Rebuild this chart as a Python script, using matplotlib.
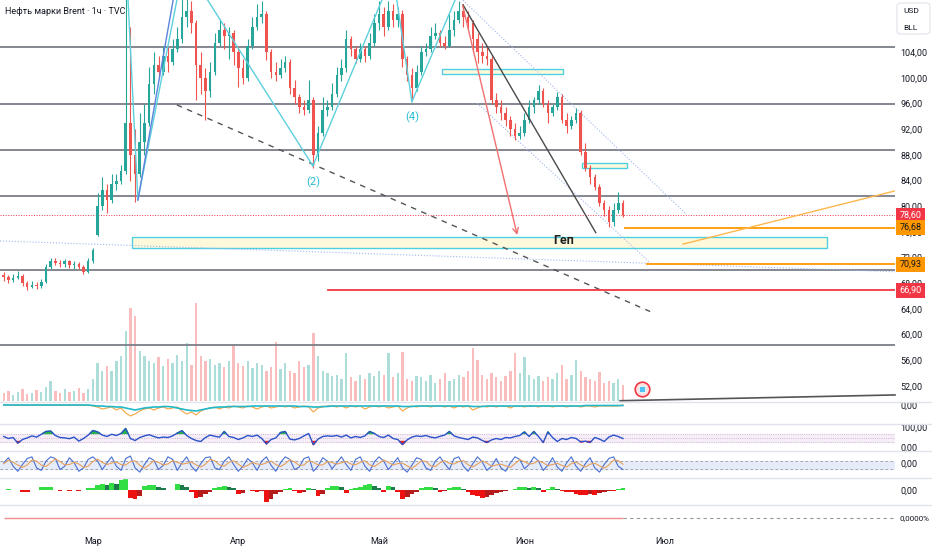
import numpy as np
import matplotlib.pyplot as plt
from matplotlib.lines import Line2D
from matplotlib.patches import Rectangle, FancyBboxPatch
import matplotlib.transforms as mtransforms

plt.rcParams['font.family'] = ['Roboto', 'DejaVu Sans']

W, H = 932, 550

# one candle per calendar day, day number counted from 1 Jan (40 = 9 Feb ... 172 = 21 Jun)
days = np.arange(40, 173)

opens = [69.3, 69.0, 68.5, 68.8, 69.2, 68.0, 67.5, 67.8, 67.6, 68.2,
         70.5, 71.5, 71.2, 71.0, 71.4, 70.8, 71.0, 70.6, 69.8, 71.5,
         75.6, 80.0, 82.5, 81.0, 83.5, 84.0, 85.5, 93.0, 88.0, 85.0,
         90.0, 93.0, 99.0, 102.0, 101.0, 103.5, 102.5, 104.5, 106.0, 109.5,
         110.5, 108.5, 102.0, 100.0, 98.0, 101.0, 105.5, 107.5, 106.5, 107.0,
         104.0, 101.5, 100.0, 105.0, 108.0, 109.5, 110.0, 104.0, 101.0, 100.5,
         101.5, 102.5, 98.5, 97.0, 95.5, 95.0, 96.5, 88.0, 91.5, 95.0,
         95.5, 97.5, 100.5, 101.5, 106.0, 104.5, 103.0, 104.5, 103.5, 105.5,
         108.5, 110.0, 108.0, 110.5, 109.0, 110.0, 103.0, 100.5, 98.5, 101.0,
         104.0, 104.5, 106.5, 107.0, 105.5, 105.0, 107.5, 109.0, 110.5, 109.5,
         108.5, 106.0, 104.0, 103.5, 103.0, 96.5, 95.5, 94.5, 93.5, 92.0,
         91.0, 91.5, 93.5, 95.5, 96.5, 98.0, 96.0, 94.5, 95.5, 97.0,
         93.5, 92.5, 93.5, 94.5, 88.5, 86.0, 84.5, 83.0, 80.5, 79.5,
         77.5, 79.5, 80.5]
highs = [69.8, 69.3, 69.4, 69.9, 69.4, 68.3, 68.4, 68.2, 68.6, 71.0,
         72.0, 71.9, 71.6, 71.8, 71.6, 71.5, 71.3, 70.9, 72.0, 73.5,
         82.0, 84.5, 83.5, 85.0, 85.0, 86.5, 113.0, 108.0, 92.0, 94.5,
         96.0, 101.7, 104.0, 103.5, 105.0, 104.8, 106.0, 108.0, 113.0, 113.0,
         112.0, 109.0, 104.0, 101.5, 102.5, 107.0, 109.0, 108.5, 108.0, 107.5,
         105.0, 103.0, 106.0, 109.5, 111.5, 112.0, 110.5, 104.5, 102.5, 103.0,
         103.5, 103.0, 99.7, 97.5, 96.5, 99.7, 97.0, 92.5, 97.0, 96.5,
         99.2, 101.7, 103.0, 107.5, 106.5, 105.0, 105.5, 105.0, 107.0, 110.0,
         112.0, 111.0, 112.0, 111.5, 111.0, 110.6, 103.5, 101.5, 102.0, 105.0,
         105.5, 108.0, 108.5, 107.5, 106.5, 110.0, 110.5, 112.0, 111.5, 110.5,
         109.0, 107.0, 105.5, 105.0, 103.5, 97.6, 96.5, 95.5, 94.0, 93.0,
         92.5, 94.5, 96.5, 97.0, 98.9, 98.5, 96.5, 96.0, 97.8, 97.5,
         94.5, 94.0, 95.3, 95.0, 89.9, 86.5, 85.0, 83.5, 81.0, 80.0,
         80.5, 82.2, 81.0]
lows = [68.4, 68.1, 68.2, 68.6, 67.6, 67.0, 67.2, 67.1, 67.3, 68.0,
        70.2, 70.8, 70.5, 70.6, 70.4, 70.3, 70.2, 69.4, 69.6, 71.2,
        75.4, 79.5, 79.0, 80.5, 82.5, 83.5, 85.0, 84.0, 80.7, 84.5,
        88.0, 92.5, 97.5, 100.2, 100.5, 101.0, 102.0, 104.0, 105.5, 108.0,
        107.0, 96.6, 97.5, 93.5, 97.0, 100.5, 105.0, 104.5, 103.0, 102.0,
        98.6, 99.0, 99.5, 104.5, 107.5, 108.5, 102.8, 100.0, 99.5, 100.0,
        101.0, 97.5, 96.0, 94.5, 94.2, 94.5, 86.0, 87.0, 91.0, 94.0,
        95.0, 97.0, 99.5, 101.0, 103.5, 102.3, 102.5, 102.5, 103.0, 105.0,
        107.5, 106.5, 107.5, 108.0, 108.0, 101.7, 99.5, 96.6, 98.0, 100.5,
        103.5, 104.0, 106.0, 104.8, 104.5, 104.8, 106.5, 108.5, 108.0, 107.5,
        104.0, 102.3, 102.3, 102.0, 96.0, 94.5, 93.5, 92.5, 91.0, 90.3,
        90.5, 91.0, 93.0, 94.5, 96.0, 95.5, 93.0, 94.0, 95.0, 93.0,
        91.4, 92.0, 93.0, 88.0, 85.5, 83.5, 82.5, 80.0, 78.5, 76.8,
        77.0, 79.0, 78.4]
closes = [69.0, 68.5, 68.8, 69.2, 68.0, 67.5, 67.8, 67.6, 68.2, 70.5,
          71.5, 71.2, 71.0, 71.4, 70.8, 71.0, 70.6, 69.8, 71.5, 73.2,
          80.0, 82.5, 81.0, 83.5, 84.0, 85.5, 93.0, 88.0, 85.0, 90.0,
          93.0, 99.0, 102.0, 101.0, 103.5, 102.5, 104.5, 106.0, 109.5, 110.5,
          108.5, 102.0, 100.0, 98.0, 101.0, 105.5, 107.5, 106.5, 107.0, 104.0,
          101.5, 100.0, 105.0, 108.0, 109.5, 110.0, 104.0, 101.0, 100.5, 101.5,
          102.5, 98.5, 97.0, 95.5, 95.0, 96.5, 88.0, 91.5, 95.0, 95.5,
          97.5, 100.5, 101.5, 106.0, 104.5, 103.0, 104.5, 103.5, 105.5, 108.5,
          110.0, 108.0, 110.5, 109.0, 110.0, 103.0, 100.5, 98.5, 101.0, 104.0,
          104.5, 106.5, 107.0, 105.5, 105.0, 107.5, 109.0, 110.5, 109.5, 108.5,
          106.0, 104.0, 103.5, 103.0, 96.5, 95.5, 94.5, 93.5, 92.0, 91.0,
          91.5, 93.5, 95.5, 96.5, 98.0, 96.0, 94.5, 95.5, 97.0, 93.5,
          92.5, 93.5, 94.5, 88.5, 86.0, 84.5, 83.0, 80.5, 79.5, 77.5,
          79.5, 80.5, 78.6]
volumes = [8, 10, 6, 9, 12, 7, 8, 11, 9, 14,
           20, 10, 8, 12, 9, 10, 13, 8, 12, 22,
           38, 30, 35, 30, 40, 45, 70, 93, 85, 50,
           45, 40, 38, 44, 35, 42, 38, 46, 40, 58,
           36, 98, 45, 40, 42, 36, 38, 34, 40, 56,
           38, 35, 40, 33, 38, 36, 30, 34, 59, 32,
           38, 30, 28, 40, 34, 36, 68, 45, 30, 28,
           25, 26, 22, 48, 24, 20, 26, 22, 28, 25,
           30, 26, 48, 24, 28, 49, 22, 20, 25, 24,
           20, 26, 18, 22, 28, 20, 22, 26, 24, 30,
           53, 41, 26, 22, 28, 24, 20, 25, 30, 48,
           28, 44, 26, 22, 25, 20, 24, 22, 28, 36,
           22, 26, 41, 30, 24, 22, 20, 29, 18, 20,
           18, 22, 16]

# panel 2: two flow lines
flow_cyan = [0, 0, 0, 0, 0, 0, 0, 0, 0, 0,
             0, 0, 0, 0, 0, 0, 0, 0, 0, -0.5,
             -1, -1, -1.5, -1.5, -2, -2, -3, -4, -5, -4,
             -3, -2.5, -2, -2, -1.5, -1.5, -2, -3, -4, -5,
             -5.5, -6, -5, -4, -3, -2.5, -2, -2, -1.5, -1.5,
             -1.5, -1.5, -1.5, -1, -1, -1, -1, -1, -1, -1,
             -1, -1, -1, -1.5, -1.5, -1.5, -2, -2, -1.5, -1.5,
             -1, -1, -1, -1, -1, -1, -1, -1, -1, -1,
             -1, -1, -1, -1, -1, -1.5, -1.5, -1.5, -1, -1,
             -1, -1, -1, -1, -1, -1, -1, -1, -1, -1,
             -1.5, -1.5, -1.5, -1, -1, -1, -1, -1, -1, -1,
             -1, -1, -1, -1, -1, -1, -1, -1, -1, -1,
             -1, -1, -1, -1, -0.5, -0.5, -0.5, -0.5, -0.5, -0.5,
             -0.5, -0.5, -0.5]
flow_orange = [0, 0, 0, 0, 0, -0.5, 0, 0, 0, 0,
               0, 0, 0, 0, 0, 0, 0, -0.5, 0, -1,
               -2, -4, -3, -2, -5, -3, -8, -11, -9, -6,
               -4, -3, -5, -3, -2, -4, -3, -2, -6, -9,
               -7, -10, -6, -4, -3, -2, -4, -2, -3, -1,
               -2, -3, -1, -2, -4, -2, -1, -3, -2, -1,
               -2, -1, -3, -2, -1, -2, -7, -3, -2, -1,
               -1, -2, -1, -3, -1, -2, -1, -4, -2, -1,
               -2, -1, -3, -2, -1, -6, -3, -1, -2, -1,
               -1, -2, -1, -1, -2, -1, -3, -1, -2, -1,
               -5, -3, -1, -2, -1, -2, -1, -1, -3, -1,
               -1, -2, -1, -1, -2, -1, -1, -2, -1, -1,
               -2, -1, -1, -2, -1, -1, -2, -1, -1, -1,
               -1, -1, 0]

rsi = [55, 45, 50, 22, 40, 48, 58, 52, 66, 80,
       82, 60, 50, 48, 44, 52, 32, 45, 62, 85,
       78, 62, 55, 66, 60, 70, 95, 45, 35, 50,
       58, 64, 55, 48, 52, 50, 58, 72, 84, 60,
       45, 35, 30, 50, 62, 56, 52, 80, 55, 50,
       40, 48, 60, 55, 62, 45, 18, 40, 48, 75,
       80, 42, 38, 45, 58, 70, 14, 42, 55, 58,
       56, 60, 52, 62, 48, 55, 50, 58, 80, 70,
       55, 50, 62, 45, 40, 15, 38, 52, 58, 55,
       60, 52, 48, 56, 62, 80, 58, 50, 45, 40,
       52, 48, 35, 25, 38, 45, 40, 50, 48, 55,
       60, 78, 55, 80, 55, 25, 78, 50, 30, 45,
       40, 50, 45, 28, 32, 25, 50, 42, 30, 52,
       62, 55, 45]

stoch_k = [60, 90, 40, 10, 50, 85, 95, 30, 15, 70,
           95, 85, 20, 40, 90, 60, 10, 30, 80, 95,
           70, 20, 60, 95, 40, 15, 85, 100, 30, 5,
           50, 90, 75, 20, 45, 95, 80, 15, 60, 95,
           40, 10, 55, 90, 95, 30, 20, 70, 95, 50,
           10, 40, 85, 60, 15, 70, 95, 45, 10, 60,
           95, 80, 20, 35, 85, 95, 10, 40, 90, 70,
           25, 60, 95, 50, 15, 80, 95, 40, 10, 65,
           95, 70, 20, 55, 90, 30, 5, 45, 90, 80,
           30, 15, 70, 95, 55, 20, 85, 95, 40, 10,
           55, 95, 65, 15, 40, 85, 30, 10, 60, 95,
           80, 25, 50, 95, 70, 15, 45, 90, 35, 10,
           60, 95, 40, 10, 55, 90, 30, 5, 50, 85,
           95, 40, 20]
stoch_d = [55, 75, 63, 47, 33, 48, 77, 70, 47, 38,
           60, 83, 67, 48, 50, 63, 53, 33, 40, 68,
           82, 62, 50, 58, 65, 50, 47, 67, 72, 45,
           28, 48, 72, 62, 47, 53, 73, 63, 52, 57,
           65, 48, 35, 52, 80, 72, 48, 40, 62, 72,
           52, 33, 45, 62, 53, 50, 60, 70, 50, 38,
           55, 78, 65, 45, 47, 72, 63, 48, 47, 67,
           62, 52, 60, 68, 53, 48, 63, 72, 48, 38,
           57, 77, 62, 48, 55, 58, 42, 27, 47, 72,
           68, 42, 38, 60, 73, 57, 53, 67, 73, 48,
           35, 53, 72, 58, 40, 47, 52, 42, 33, 55,
           78, 67, 52, 57, 72, 60, 43, 50, 57, 45,
           35, 55, 65, 48, 35, 52, 58, 42, 28, 47,
           77, 73, 52]

macd_hist = [0.5, 1, 0.5, 0, -2, -2, 0, 0, 3, 3,
             3, 0, -1, 0, -1, 0, -0.5, 0, 2, 2,
             5, 6, 5, 7, 6, 10, 12, -8, -9, -6,
             4, 5, 5, 3, 2, 0, 0, 6, 5, 3,
             -2, -8, -7, -4, -2, 2, 3, 4, 3, 2,
             -4, -3, 0, -1, -2, -1, -12, -9, -4, -2,
             1, 2, -1, -3, -2, 2, 1, -6, -4, 2,
             4, 4, 3, -3, 1, 2, 3, 5, 6, 4,
             2, -2, 4, 3, -2, -9, -7, -4, -2, 2,
             3, 3, 2, -2, -1, 2, 3, 3, 1, -2,
             -5, -6, -8, -7, -5, -3, -2, -1, 0, 1,
             3, 3, 2, 3, 2, -2, 1, 3, 1, -1,
             -2, -2, -4, -5, -5, -4, -5, -3, -2, -1,
             -1, 1, 2]

# horizontal levels and drawings (day, price)
gray_levels = [104.83, 95.95, 88.79, 81.62, 70.09, 58.41]
last_price = 78.60
orange_levels = [(172.4, 76.68), (177.1, 70.93)]
red_level = (109.1, 66.90)
wave_lines = [((66.5, 112.1), (68.6, 81.0)), ((68.6, 81.0), (76.9, 112.1)),
              ((83.5, 112.1), (105.9, 86.3)), ((105.9, 86.3), (120.6, 112.1)),
              ((123.8, 112.1), (127.0, 96.3)), ((127.0, 96.3), (136.2, 112.1))]
blue_line = ((68.6, 81.0), (76.1, 112.1))
red_arrow = ((137.7, 111.7), (149.6, 75.1))
dark_line = ((137.9, 111.4), (166.2, 75.9))
dashed_line = ((76.9, 95.8), (177.8, 63.6))
dotted_lines = [((137.9, 112.1), (185.2, 79.0)), ((140.9, 96.1), (177.8, 71.2)),
                ((39.2, 74.6), (230.0, 69.8))]
orange_slope = ((184.8, 74.1), (230.0, 82.4))
bottom_line = ((171.4, 49.7), (230.0, 50.6))
boxes = [((67.3, 73.5), (215.5, 75.2)), ((133.4, 100.6), (159.2, 101.4)),
         ((163.3, 86.0), (172.9, 86.8))]
month_days = [59, 90, 120, 151, 181]
month_names = ['Мар', 'Апр', 'Май', 'Июн', 'Июл']

XMIN, XMAX = 39.2, 230.0

fig = plt.figure(figsize=(W / 100, H / 100), dpi=100)
fig.patch.set_facecolor('white')


def panel(top, bottom):
    a = fig.add_axes([0, 1 - bottom / H, 895 / W, (bottom - top) / H])
    a.set_xlim(XMIN, XMAX)
    for s in a.spines.values():
        s.set_visible(False)
    a.patch.set_visible(False)
    a.set_xticks([])
    a.yaxis.tick_right()
    a.tick_params(axis='y', length=0, pad=4, labelsize=6.5, labelcolor='#131722')
    return a


ax = panel(0, 402)
ax.set_ylim(49.5, 112.15)
axv = ax.twinx()
axv.set_ylim(-1, 401)
axv.axis('off')
ax.set_zorder(axv.get_zorder() + 1)
# twinx moves the price ticks to the left, put them back
ax.yaxis.tick_right()
ax.tick_params(axis='y', length=0, pad=4, labelsize=6.5, labelcolor='#131722')

up_c, dn_c = '#26a69a', '#ef5350'
colors = [up_c if c >= o else dn_c for o, c in zip(opens, closes)]
axv.bar(days, volumes, width=0.5, color=colors, alpha=0.38)

for lv in gray_levels:
    ax.axhline(lv, color='#7b7e87', lw=1.3, zorder=1)
ax.axhline(last_price, color='#f23645', lw=0.7, ls=':', zorder=1)
for d0, lv in orange_levels:
    ax.plot([d0, XMAX], [lv, lv], color='#ff9800', lw=1.3, zorder=2)
ax.plot([red_level[0], XMAX], [red_level[1]] * 2, color='#f23645', lw=1.3, zorder=2)

for (x0, y0), (x1, y1) in boxes:
    ax.add_patch(Rectangle((x0, y0), x1 - x0, y1 - y0, facecolor='#fff9db',
                           edgecolor='#4dd0e1', lw=1, zorder=1.5))

for (x0, y0), (x1, y1) in dotted_lines:
    ax.plot([x0, x1], [y0, y1], color='#9fb6ee', lw=0.8, ls=':', zorder=1.6)
ax.plot(*zip(*dashed_line), color='#555555', lw=1, ls=(0, (4, 4)), zorder=1.7)

ax.vlines(days, lows, highs, colors=colors, lw=0.8, zorder=3)
ax.bar(days, np.array(closes) - np.array(opens), bottom=opens, width=0.55,
       color=colors, zorder=3.1)

for seg in wave_lines:
    ax.plot(*zip(*seg), color='#5cd0dd', lw=1, zorder=4)
ax.plot(*zip(*blue_line), color='#5b84dd', lw=1, zorder=4)
ax.plot(*zip(*dark_line), color='#4a4a4a', lw=1, zorder=4)
ax.annotate('', xy=red_arrow[1], xytext=red_arrow[0],
            arrowprops=dict(arrowstyle='->', color='#f07070', lw=1), zorder=4)
ax.plot(*zip(*orange_slope), color='#ffb74d', lw=1, zorder=2)
ax.plot(*zip(*bottom_line), color='#555555', lw=1.2, zorder=2, clip_on=False)

ax.text(105.9, 83.8, '(2)', color='#26bcd4', fontsize=8, ha='center', va='center')
ax.text(127.0, 93.9, '(4)', color='#26bcd4', fontsize=8, ha='center', va='center')
ax.text(159.4, 74.7, 'Геп', color='#222222', fontsize=9, fontweight='bold',
        ha='center', va='center', zorder=5)
ax.scatter([176.0], [51.6], s=110, facecolor='#fde0e0', edgecolor='#f23645',
           lw=1.2, zorder=6, clip_on=False)
ax.scatter([176.0], [51.6], s=22, marker='s', facecolor='#4fc3f7',
           edgecolor='white', lw=0.5, zorder=7, clip_on=False)

price_ticks = list(range(52, 105, 4))
ax.set_yticks(price_ticks)
ax.set_yticklabels(['%d,00' % p for p in price_ticks])

trans = mtransforms.blended_transform_factory(ax.transAxes, ax.transData)
for price, bg, fg in [(78.60, '#f23645', 'white'), (76.68, '#ff9800', '#131722'),
                      (70.93, '#ff9800', '#131722'), (66.90, '#f23645', 'white')]:
    ax.text(1.005, price, ('%.2f' % price).replace('.', ','), transform=trans,
            fontsize=6.5, color=fg, va='center', ha='left', clip_on=False, zorder=10,
            bbox=dict(boxstyle='square,pad=0.35', fc=bg, ec='none'))

ax.text(5 / 895, 1 - 11 / 402, 'Нефть марки Brent · 1ч · TVC', transform=ax.transAxes,
        fontsize=6.5, color='#131722', va='center', ha='left')

# panel 2
ax2 = panel(402, 424)
ax2.set_ylim(-19, 3)
ax2.plot(days, flow_orange, color='#f5a442', lw=0.8)
ax2.plot(days, flow_cyan, color='#21b8c9', lw=1.2)
ax2.set_yticks([0])
ax2.set_yticklabels(['0,00'])

# panel 3
ax3 = panel(424, 451)
ax3.set_ylim(-17.5, 117.5)
rsi_a = np.array(rsi, dtype=float)
ax3.axhspan(30, 70, color='#f5eef7', zorder=0)
for lv in (70, 50, 30):
    ax3.axhline(lv, color='#c9a6cf', lw=0.6, ls=':', zorder=0.5)
ax3.plot(days, rsi_a, color='#2a52c9', lw=1)
ax3.fill_between(days, 70, rsi_a, where=rsi_a > 70, interpolate=True, color='#2ab34a')
ax3.fill_between(days, 30, rsi_a, where=rsi_a < 30, interpolate=True, color='#ee2222')
ax3.set_yticks([100, 0])
ax3.set_yticklabels(['100,00', '0,00'])

# panel 4
ax4 = panel(451, 478)
ax4.set_ylim(-29.4, 129.4)
ax4.axhspan(25, 70, color='#e6ebfa', zorder=0)
for lv in (25, 70):
    ax4.axhline(lv, color='#9598a1', lw=0.6, ls=(0, (3, 3)), zorder=0.5)
ax4.plot(days, stoch_k, color='#4a6fd1', lw=0.8)
ax4.plot(days, stoch_d, color='#e8a05a', lw=0.8)
ax4.set_yticks([57])
ax4.set_yticklabels(['0,00'])

# panel 5
ax5 = panel(478, 505)
ax5.set_ylim(-15, 12)
hist_colors = []
prev = 0
for v in macd_hist:
    if v >= 0:
        hist_colors.append('#33dd44' if v >= prev else '#1e7a4a')
    else:
        hist_colors.append('#ee1111' if v <= prev else '#b71c1c')
    prev = v
ax5.bar(days, macd_hist, width=1.0, color=hist_colors)
ax5.set_yticks([0])
ax5.set_yticklabels(['0,00'])

# panel 6
ax6 = panel(505, 530)
ax6.set_ylim(-1, 1)
ax6.hlines(0, days[0], days[-1], color='#f28b8b', lw=1)
ax6.hlines(0, days[-1], XMAX, color='#9598a1', lw=0.8, ls=(0, (3, 3)))
ax6.set_yticks([0])
ax6.set_yticklabels(['0,0000%'])
ax6.tick_params(axis='y', labelsize=5.8, pad=3)
ax6.set_xticks(month_days)
ax6.set_xticklabels(month_names)
ax6.tick_params(axis='x', length=0, pad=5, labelsize=6.5, labelcolor='#131722')

for yy in (402, 424, 451, 478, 505):
    fig.add_artist(Line2D([0, 1], [1 - yy / H] * 2, transform=fig.transFigure,
                          color='#e0e3eb', lw=1))

fig.add_artist(FancyBboxPatch((897 / W, 1 - 34 / H), 33 / W, 31 / H,
                              boxstyle='round,pad=0,rounding_size=0.005',
                              transform=fig.transFigure, fc='white', ec='#e0e3eb', lw=0.8))
fig.text(903 / W, 1 - 11 / H, 'USD', fontsize=6, color='#131722', va='center')
fig.text(903 / W, 1 - 28 / H, 'BLL', fontsize=6, color='#131722', va='center')

fig.savefig('out.png', dpi=100)
